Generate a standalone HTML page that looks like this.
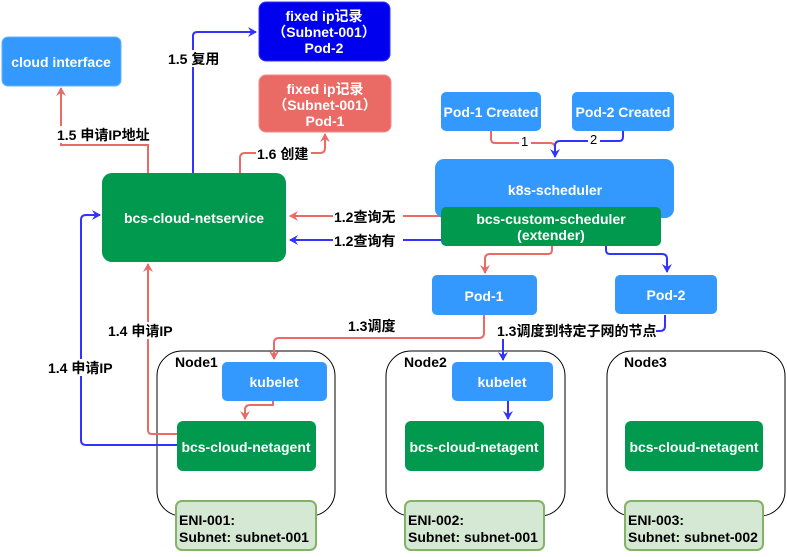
<!DOCTYPE html>
<html><head><meta charset="utf-8"><style>
body{margin:0;background:#fff;}
text{font-family:"Liberation Sans","Noto Sans CJK SC",sans-serif;font-weight:bold;font-size:14px;}
.w{fill:#fff;text-anchor:middle;}
.k{fill:#000;}
</style></head><body>
<svg width="787" height="552" viewBox="0 0 787 552" xmlns="http://www.w3.org/2000/svg">
<defs>
<marker id="ar" markerWidth="10" markerHeight="10" refX="8" refY="5" orient="auto" markerUnits="userSpaceOnUse"><path d="M0,0 L9,5 L0,10 L3,5 z" fill="#EA6B66"/></marker>
<marker id="ab" markerWidth="10" markerHeight="10" refX="8" refY="5" orient="auto" markerUnits="userSpaceOnUse"><path d="M0,0 L9,5 L0,10 L3,5 z" fill="#3333FF"/></marker>
</defs>
<g fill="none" stroke-width="2">
<rect x="157" y="351" width="178" height="165" rx="25" stroke="#000" stroke-width="1"/>
<rect x="386" y="351" width="179" height="165" rx="25" stroke="#000" stroke-width="1"/>
<rect x="607" y="351" width="178" height="165" rx="25" stroke="#000" stroke-width="1"/>
<path d="M148,173 V145 H61 V88" stroke="#EA6B66" marker-end="url(#ar)"/>
<path d="M193,173 V36 Q193,32 197,32 H256" stroke="#3333FF" marker-end="url(#ab)"/>
<path d="M240,173 V158 Q240,153 245,153 H320 Q325,153 325,148 V134" stroke="#EA6B66" marker-end="url(#ar)"/>
<path d="M491,131 V139 Q491,143 495,143 H550 Q555,143 555,148 V156" stroke="#EA6B66"/>
<path d="M623,131 V137 Q623,141 619,141 H560 Q555,141 555,146 V157" stroke="#3333FF" marker-end="url(#ab)"/>
<path d="M441,216 H290" stroke="#EA6B66" marker-end="url(#ar)"/>
<path d="M441,240 H290" stroke="#3333FF" marker-end="url(#ab)"/>
<path d="M552,246 V250 Q552,254 548,254 H490 Q485,254 485,259 V273" stroke="#EA6B66" marker-end="url(#ar)"/>
<path d="M606,246 V250 Q606,254 610,254 H662 Q667,254 667,259 V272" stroke="#3333FF" marker-end="url(#ab)"/>
<path d="M484,315 V333 Q484,338 479,338 H279 Q274,338 274,343 V359" stroke="#EA6B66" marker-end="url(#ar)"/>
<path d="M665,315 V326 Q665,331 660,331 H650" stroke="#3333FF"/>
<path d="M503,338 V360" stroke="#3333FF" marker-end="url(#ab)"/>
<path d="M273,401 V405 H250 Q245,405 245,410 V419" stroke="#EA6B66" marker-end="url(#ar)"/>
<path d="M508,401 V419" stroke="#3333FF" marker-end="url(#ab)"/>
<path d="M178,434 H152 Q148,434 148,430 V264" stroke="#EA6B66" marker-end="url(#ar)"/>
<path d="M178,445 H86 Q81,445 81,440 V220 Q81,215 86,215 H100" stroke="#3333FF" marker-end="url(#ab)"/>
</g>
<rect x="2" y="37" width="119" height="49" rx="6" fill="#3399FF" stroke="#66B2FF"/>
<text class="w" x="61" y="67">cloud interface</text>
<rect x="259" y="2" width="131" height="59" rx="7" fill="#0000EE" stroke="#3333FF"/>
<text class="w" x="324" y="21">fixed ip记录</text><text class="w" x="324" y="37">（Subnet-001）</text><text class="w" x="324" y="53">Pod-2</text>
<rect x="259" y="75" width="132" height="57" rx="7" fill="#EA6B66" stroke="#F08A85"/>
<text class="w" x="325" y="94">fixed ip记录</text><text class="w" x="325" y="110">（Subnet-001）</text><text class="w" x="325" y="126">Pod-1</text>
<rect x="102" y="173" width="184" height="89" rx="10" fill="#00994D"/>
<text class="w" x="194" y="223">bcs-cloud-netservice</text>
<rect x="441" y="92" width="100" height="39" rx="5" fill="#3399FF"/>
<text class="w" x="491" y="117">Pod-1 Created</text>
<rect x="572" y="92" width="102" height="39" rx="5" fill="#3399FF"/>
<text class="w" x="623" y="117">Pod-2 Created</text>
<rect x="435" y="159" width="239" height="59" rx="9" fill="#3399FF"/>
<text class="w" x="555" y="195">k8s-scheduler</text>
<rect x="441" y="207" width="220" height="39" rx="5" fill="#00994D"/>
<text class="w" x="551" y="224">bcs-custom-scheduler</text><text class="w" x="551" y="240">(extender)</text>
<rect x="432" y="275" width="105" height="40" rx="5" fill="#3399FF"/>
<text class="w" x="484" y="301">Pod-1</text>
<rect x="615" y="275" width="102" height="39" rx="5" fill="#3399FF"/>
<text class="w" x="666" y="300">Pod-2</text>
<rect x="222" y="362" width="105" height="39" rx="5" fill="#3399FF"/>
<text class="w" x="274" y="387">kubelet</text>
<rect x="452" y="362" width="101" height="39" rx="5" fill="#3399FF"/>
<text class="w" x="502" y="387">kubelet</text>
<rect x="177" y="421" width="139" height="50" rx="6" fill="#00994D"/>
<text class="w" x="246" y="452">bcs-cloud-netagent</text>
<rect x="405" y="421" width="139" height="50" rx="6" fill="#00994D"/>
<text class="w" x="474" y="452">bcs-cloud-netagent</text>
<rect x="625" y="421" width="138" height="50" rx="6" fill="#00994D"/>
<text class="w" x="694" y="452">bcs-cloud-netagent</text>
<g fill="#D5E8D4" stroke="#82B366" stroke-width="2">
<rect x="176" y="501" width="140" height="49" rx="6"/>
<rect x="405" y="501" width="139" height="49" rx="6"/>
<rect x="625" y="501" width="138" height="49" rx="6"/>
</g>
<text class="k" x="179" y="525">ENI-001:</text><text class="k" x="179" y="542">Subnet: subnet-001</text>
<text class="k" x="408" y="525">ENI-002:</text><text class="k" x="408" y="542">Subnet: subnet-001</text>
<text class="k" x="628" y="525">ENI-003:</text><text class="k" x="628" y="542">Subnet: subnet-002</text>
<text class="k" x="175" y="367">Node1</text>
<text class="k" x="404" y="367">Node2</text>
<text class="k" x="624" y="367">Node3</text>
<g class="k">
<rect x="55" y="126" width="98" height="17" fill="#fff"/>
<text x="57" y="140">1.5 申请IP地址</text>
<rect x="167" y="50" width="54" height="17" fill="#fff"/>
<text x="168" y="64">1.5 复用</text>
<rect x="256" y="145" width="55" height="17" fill="#fff"/>
<text x="257" y="159">1.6 创建</text>
<rect x="333" y="208" width="70" height="17" fill="#fff"/>
<text x="334" y="222">1.2查询无</text>
<rect x="333" y="232" width="70" height="17" fill="#fff"/>
<text x="334" y="246">1.2查询有</text>
<rect x="519" y="135" width="12" height="14" fill="#fff"/>
<text x="521" y="146" style="font-weight:normal;font-size:13px">1</text>
<rect x="588" y="133" width="12" height="14" fill="#fff"/>
<text x="590" y="144" style="font-weight:normal;font-size:13px">2</text>
<text x="348" y="331">1.3调度</text>
<rect x="496" y="322" width="160" height="17" fill="#fff"/>
<text x="497" y="336">1.3调度到特定子网的节点</text>
<rect x="107" y="322" width="72" height="17" fill="#fff"/>
<text x="108" y="336">1.4 申请IP</text>
<rect x="47" y="359" width="72" height="17" fill="#fff"/>
<text x="48" y="373">1.4 申请IP</text>
</g>
</svg>
</body></html>
